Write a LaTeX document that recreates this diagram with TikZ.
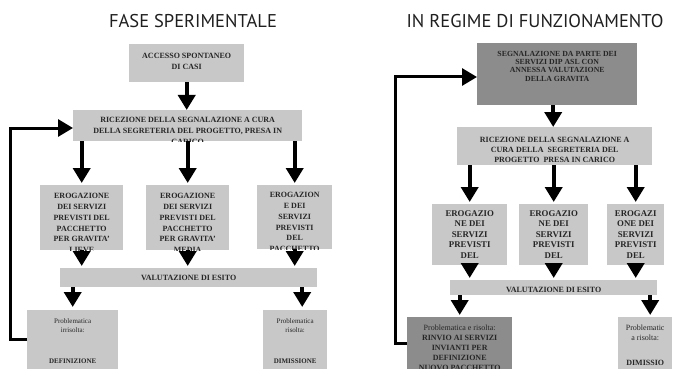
\documentclass[tikz,border=0pt]{standalone}
\usepackage{fontspec}
\setmainfont{Liberation Serif}
\newfontfamily\titlefont{PT Sans}
\usetikzlibrary{arrows.meta}
\definecolor{lightbox}{HTML}{C8C8C8}
\definecolor{darkbox}{HTML}{8C8C8C}
\definecolor{ink}{HTML}{262626}
\tikzset{
  bigtip/.tip={Triangle[width=17pt,length=15pt]},
  arr/.style={line width=4pt, -bigtip},
  fbline/.style={line width=3pt, line join=miter, -bigtip},
  boxlight/.style={fill=lightbox},
  boxdark/.style={fill=darkbox},
  txt/.style={text=ink, align=center, inner sep=0pt, minimum width=0pt, minimum height=0pt, fill=none, draw=none},
  titletxt/.style={font=\titlefont\fontsize{18.5}{22}\selectfont, text=black!88, inner sep=0pt},
  capsA/.style={font=\fontsize{8}{10.8}\selectfont\bfseries},
  capsB/.style={font=\fontsize{8.8}{10.5}\selectfont\bfseries},
  capsC/.style={font=\fontsize{7.8}{8.2}\selectfont\bfseries},
  capsD/.style={font=\fontsize{8}{10}\selectfont\bfseries},
  lowA/.style={font=\fontsize{7}{9.5}\selectfont},
  lowB/.style={font=\fontsize{8}{10}\selectfont},
}
\newcommand\flowbox[9]{%
  \node[#6, draw=none, inner sep=0pt, minimum width=#4pt, minimum height=#5pt, anchor=north west,
    path picture={\node[txt, #7, anchor=north] at ([yshift=-#8pt]path picture bounding box.north) {#9};}]
    (#1) at (#2,#3) {};}
\begin{document}
\begin{tikzpicture}[x=1pt,y=-1pt]
\useasboundingbox (0,0) rectangle (675,369);
\fill[white] (0,0) rectangle (675,369);
\clip (0,0) rectangle (675,369);

% titles
\node[titletxt] (t1) at (193,21) {FASE SPERIMENTALE};
\node[titletxt] (t2) at (535,21) {IN REGIME DI FUNZIONAMENTO};

% ---------- left flowchart ----------
\flowbox{A}{129}{44}{115}{38}{boxlight}{capsA}{9}{ACCESSO SPONTANEO\\DI CASI}
\flowbox{R}{73}{110}{229}{31}{boxlight}{capsA}{7}{RICEZIONE DELLA SEGNALAZIONE A CURA\\DELLA SEGRETERIA DEL PROGETTO, PRESA IN\\CARICO}
\flowbox{E1}{40}{185}{83}{65}{boxlight}{capsA}{8}{EROGAZIONE\\DEI SERVIZI\\PREVISTI DEL\\PACCHETTO\\PER GRAVITA'\\LIEVE}
\flowbox{E2}{146}{185}{83}{65}{boxlight}{capsA}{8}{EROGAZIONE\\DEI SERVIZI\\PREVISTI DEL\\PACCHETTO\\PER GRAVITA'\\MEDIA}
\flowbox{E3}{257}{185}{75}{64}{boxlight}{capsA}{7}{EROGAZION\\E DEI\\SERVIZI\\PREVISTI\\DEL\\PACCHETTO}
\flowbox{V}{60}{268}{257}{19}{boxlight}{capsA}{7}{VALUTAZIONE DI ESITO}
\flowbox{P1}{27}{310}{91}{70}{boxlight}{lowA}{8}{Problematica\\irrisolta:\\[21pt]\textbf{DEFINIZIONE}}
\flowbox{P2}{263}{310}{64}{70}{boxlight}{lowA}{8}{Problematica\\risolta:\\[21pt]\textbf{DIMISSIONE}}

\draw[arr] (A.south) -- (A.south |- R.north);
\foreach \e in {E1,E2,E3}{
  \draw[arr, shorten >=2pt] (\e.north |- R.south) -- (\e.north);
  \draw[arr, shorten >=2pt] (\e.south) -- (\e.south |- V.north);
}
\draw[arr, shorten >=3pt] (P1.north |- V.south) -- (P1.north);
\draw[arr, shorten >=3pt] ([xshift=7pt]P2.north |- V.south) -- ([xshift=7pt]P2.north);

\coordinate (fl1) at (10,339);
\coordinate (fl2) at (10,128);
\draw[fbline] (fl1 -| P1.west) -- (fl1) -- (fl2) -- (fl2 -| R.west);

% ---------- right flowchart ----------
\flowbox{D}{477}{43}{160}{62}{boxdark}{capsC}{8}{SEGNALAZIONE DA PARTE DEI\\SERVIZI DIP ASL CON\\ANNESSA VALUTAZIONE\\DELLA GRAVITA}
\flowbox{R2}{457}{127}{195}{38}{boxlight}{capsD}{10}{RICEZIONE DELLA SEGNALAZIONE A\\CURA DELLA\ \ SEGRETERIA DEL\\PROGETTO\ \ PRESA IN CARICO}
\flowbox{E4}{432}{204}{75}{61}{boxlight}{capsB}{6}{EROGAZIO\\NE DEI\\SERVIZI\\PREVISTI\\DEL}
\flowbox{E5}{519}{204}{69}{61}{boxlight}{capsB}{6}{EROGAZIO\\NE DEI\\SERVIZI\\PREVISTI\\DEL}
\flowbox{E6}{607}{204}{57}{61}{boxlight}{capsB}{6}{EROGAZI\\ONE DEI\\SERVIZI\\PREVISTI\\DEL}
\flowbox{V2}{450}{280}{207}{15}{boxlight}{capsA}{7}{VALUTAZIONE DI ESITO}
\flowbox{P3}{407}{317}{105}{63}{boxdark}{lowB}{8}{Problematica e risolta:\\\textbf{RINVIO AI SERVIZI}\\\textbf{INVIANTI PER}\\\textbf{DEFINIZIONE}\\\textbf{NUOVO PACCHETTO}}
\flowbox{P4}{618}{317}{54}{63}{boxlight}{lowB}{8}{Problematic\\a risolta:\\[15pt]\textbf{DIMISSIO}\\\textbf{NE}}

\draw[arr] ([xshift=-4pt]D.south) -- ([xshift=-4pt]D.south |- R2.north);
\foreach \e in {E4,E5,E6}{
  \draw[arr, shorten >=2pt] (\e.north |- R2.south) -- (\e.north);
  \draw[arr, shorten >=2pt] (\e.south) -- (\e.south |- V2.north);
}
\draw[arr, shorten >=2pt] (P3.north |- V2.south) -- (P3.north);
\draw[arr, shorten >=2pt] ([xshift=5pt]P4.north |- V2.south) -- ([xshift=5pt]P4.north);

\coordinate (fr1) at (395,343);
\coordinate (fr2) at (395,77);
\draw[fbline] (fr1 -| P3.west) -- (fr1) -- (fr2) -- (fr2 -| D.west);
\end{tikzpicture}
\end{document}
